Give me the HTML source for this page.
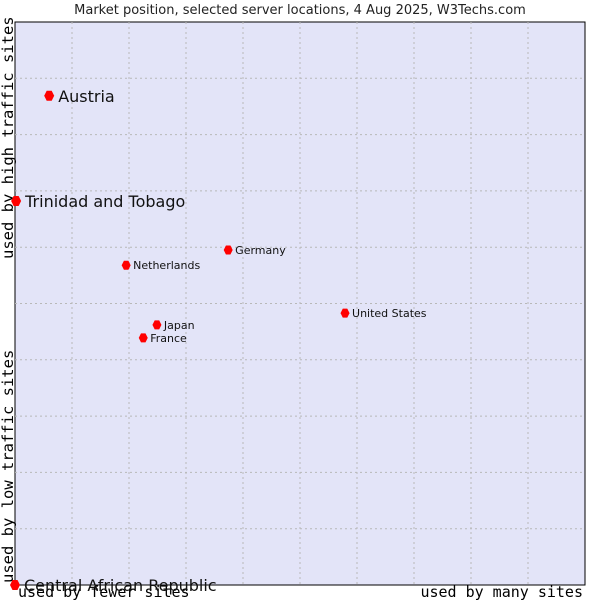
<!DOCTYPE html>
<html><head><meta charset="utf-8"><style>
html,body{margin:0;padding:0;background:#fff}
svg{display:block}
</style></head><body>
<svg id="chart" width="600" height="600" xmlns="http://www.w3.org/2000/svg">
<text x="300" y="14" text-anchor="middle" font-family="DejaVu Sans, sans-serif" font-size="13" fill="#222">Market position, selected server locations, 4 Aug 2025, W3Techs.com</text>
<rect x="15" y="22" width="570" height="563" fill="#e3e4f8" stroke="#000" stroke-width="1"/>
<g id="grid"></g>
<text transform="translate(13,259) rotate(-90)" font-family="DejaVu Sans Mono, Liberation Mono, monospace" font-size="15.5" fill="#000">used by high traffic sites</text>
<text transform="translate(13,583) rotate(-90)" font-family="DejaVu Sans Mono, Liberation Mono, monospace" font-size="15.5" fill="#000">used by low traffic sites</text>
<text x="18" y="597" font-family="DejaVu Sans Mono, Liberation Mono, monospace" font-size="15" fill="#000">used by fewer sites</text>
<text x="583" y="597" text-anchor="end" font-family="DejaVu Sans Mono, Liberation Mono, monospace" font-size="15" fill="#000">used by many sites</text>
<g id="points"></g>
</svg>
<script>
const countries = ["Austria","Trinidad and Tobago","Germany","Netherlands","United States","Japan","France","Central African Republic"];
const xValues = [6.0, 0.2, 37.4, 19.5, 57.9, 24.9, 22.5, 0];
const yValues = [86.9, 68.2, 59.5, 56.8, 48.3, 46.2, 43.9, 0];
const bigLabel = [true, true, false, false, false, false, false, true];
const gridTicks = [10,20,30,40,50,60,70,80,90];

const NS = "http://www.w3.org/2000/svg";
const L=15,R=585,T=22,B=585;
const xs = v => L + (R-L)*v/100;
const ys = v => B - (B-T)*v/100;

const grid = document.getElementById("grid");
gridTicks.forEach(t=>{
  const v=document.createElementNS(NS,"line");
  
  
  v.setAttribute("x1",xs(t));v.setAttribute("x2",xs(t));v.setAttribute("y1",T);v.setAttribute("y2",B);
  v.setAttribute("stroke","#b8b8b8");v.setAttribute("stroke-dasharray","2,3");
  grid.appendChild(v);
  const h=document.createElementNS(NS,"line");
  
  
  h.setAttribute("x1",L);h.setAttribute("x2",R);h.setAttribute("y1",ys(t));h.setAttribute("y2",ys(t));
  h.setAttribute("stroke","#b8b8b8");h.setAttribute("stroke-dasharray","2,3");
  grid.appendChild(h);
});

const pts = document.getElementById("points");
countries.forEach((c,i)=>{
  const x=xs(xValues[i]), y=ys(yValues[i]);
  const big=bigLabel[i];
  const r = big?5:4.5;
  const d=document.createElementNS(NS,"path");
  
  
  d.setAttribute("d",`M${x-r},${y} L${x-r/2},${y-r} L${x+r/2},${y-r} L${x+r},${y} L${x+r/2},${y+r} L${x-r/2},${y+r} Z`);
  d.setAttribute("fill","#f00");
  pts.appendChild(d);
  const t=document.createElementNS(NS,"text");
  
  
  t.setAttribute("x", x + (big?9:7));
  t.setAttribute("y", y + (big?6:4));
  t.setAttribute("font-family","DejaVu Sans, sans-serif");
  t.setAttribute("font-size", big?16:11);
  t.setAttribute("fill","#111");
  t.textContent=c;
  pts.appendChild(t);
});
</script>
</body></html>
